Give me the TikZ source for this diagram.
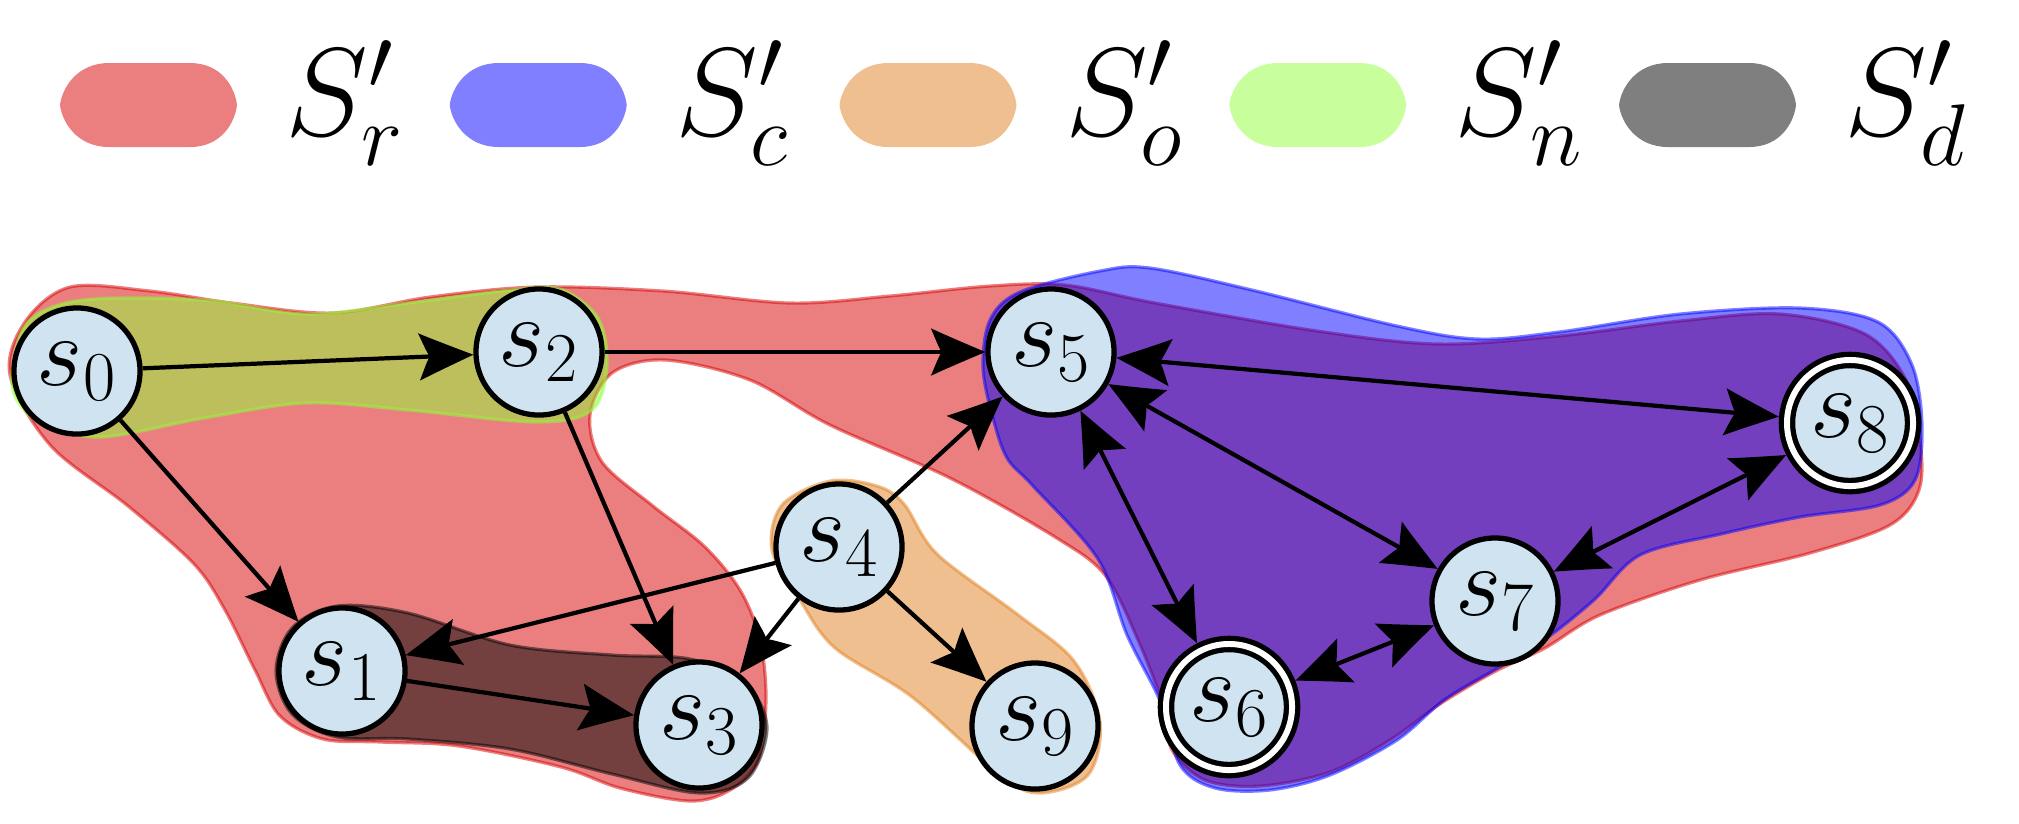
\RequirePackage{fix-cm}
\documentclass[tikz,border=0pt]{standalone}
\usetikzlibrary{arrows.meta}
\definecolor{cR}{RGB}{215,0,0}
\definecolor{cB}{RGB}{0,0,255}
\definecolor{cO}{RGB}{225,127,31}
\definecolor{cG}{RGB}{145,255,57}
\definecolor{cD}{RGB}{0,0,0}
\definecolor{nodefill}{RGB}{207,228,240}

% arrow head with nearly straight flanks and a curved, notched back
\pgfdeclarearrow{
  name = Dart,
  parameters = {\the\pgfarrowlength,\the\pgfarrowwidth},
  setup code = {
    \pgfarrowssettipend{0pt}
    \pgfarrowssetlineend{-.6\pgfarrowlength}
    \pgfarrowsupperhullpoint{0pt}{0pt}
    \pgfarrowsupperhullpoint{-\pgfarrowlength}{.5\pgfarrowwidth}
    \pgfarrowssavethe\pgfarrowlength
    \pgfarrowssavethe\pgfarrowwidth
  },
  drawing code = {
    \pgfpathmoveto{\pgfpointorigin}
    \pgfpathcurveto{\pgfpoint{-.35\pgfarrowlength}{.17\pgfarrowwidth}}{\pgfpoint{-.7\pgfarrowlength}{.34\pgfarrowwidth}}{\pgfpoint{-\pgfarrowlength}{.5\pgfarrowwidth}}
    \pgfpathcurveto{\pgfpoint{-.93\pgfarrowlength}{.32\pgfarrowwidth}}{\pgfpoint{-.86\pgfarrowlength}{.1\pgfarrowwidth}}{\pgfpoint{-.8\pgfarrowlength}{0pt}}
    \pgfpathcurveto{\pgfpoint{-.86\pgfarrowlength}{-.1\pgfarrowwidth}}{\pgfpoint{-.93\pgfarrowlength}{-.32\pgfarrowwidth}}{\pgfpoint{-\pgfarrowlength}{-.5\pgfarrowwidth}}
    \pgfpathcurveto{\pgfpoint{-.7\pgfarrowlength}{-.34\pgfarrowwidth}}{\pgfpoint{-.35\pgfarrowlength}{-.17\pgfarrowwidth}}{\pgfpointorigin}
    \pgfpathclose
    \pgfusepathqfill
  },
  defaults = {length = 15pt, width = 13pt}
}

\begin{document}
\begin{tikzpicture}[x=0.01cm,y=-0.01cm,
  region/.style={fill=#1, draw=#1, fill opacity=0.5, draw opacity=0.5, line width=0.9pt},
  swatch/.style={fill=#1, fill opacity=0.5},
  state/.style={circle, draw, line width=1.5pt, fill=nodefill, minimum size=1.26cm,
    inner sep=0pt, font=\fontsize{28.45}{34}\selectfont},
  finalstate/.style={double, double distance=1.7pt, outer sep=2.4pt},
  tip/.tip={Dart[length=15.5pt,width=13.5pt]},
  oneway/.style={line width=1.2pt, -tip},
  twoway/.style={line width=1.2pt, tip-tip},
  legendtext/.style={anchor=base west, inner sep=0pt, font=\fontsize{35.6}{42}\selectfont}]
\useasboundingbox (0,0) rectangle (2019,823);

% legend
\foreach \c/\lab [count=\i from 0] in {cR/r, cB/c, cO/o, cG/n, cD/d} {
  \begin{scope}[shift={(\i*389.75,0)}]
    \fill[swatch=\c] (109,63) -- (190,63) .. controls (222,63) and (235,88) .. (237,105)
      .. controls (235,122) and (222,147) .. (190,147) -- (109,147)
      .. controls (77,147) and (62,122) .. (60,105)
      .. controls (62,88) and (77,63) .. (109,63) -- cycle;
    \node[legendtext] (leg\lab) at (285,135) {$S'_\lab$};
  \end{scope}
}

% S'_r
\filldraw[region=cR] plot[smooth cycle, tension=0.55] coordinates {
  (10,375) (25,322) (70,287) (150,291) (232,303) (332,313) (430,297) (536,287)
  (663,291) (790,303) (890,296) (990,286) (1065,285) (1155,303) (1317,331)
  (1438,344) (1559,336) (1680,321) (1780,314) (1865,334) (1906,380) (1920,440)
  (1919,490) (1890,525) (1810,553) (1700,580) (1600,615) (1545,648) (1494,672)
  (1440,704) (1390,740) (1330,772) (1260,786) (1205,780) (1172,750) (1163,705)
  (1138,640) (1105,575) (1055,537) (950,478) (830,425) (750,380) (665,360)
  (612,373) (590,415) (602,462) (653,506) (704,546) (740,590) (760,640)
  (766,700) (758,760) (730,790) (690,801) (620,788) (561,767) (459,746)
  (380,742) (323,739) (280,716) (255,670) (225,610) (194,564) (128,506) (51,446)};
% S'_n
\filldraw[region=cG] plot[smooth cycle, tension=0.55] coordinates {
  (12,372) (28,322) (83,300) (204,300) (306,314) (408,303) (510,290) (560,289)
  (598,318) (607,365) (592,410) (536,422) (408,410) (306,403) (204,418)
  (102,437) (45,425) (18,402)};
% S'_d
\filldraw[region=cD] plot[smooth cycle, tension=0.55] coordinates {
  (276,671) (292,628) (337,606) (408,613) (510,645) (612,655) (690,659)
  (745,683) (767,727) (748,778) (699,793) (612,774) (510,749) (408,739)
  (337,737) (292,714)};
% S'_o
\filldraw[region=cO] plot[smooth cycle, tension=0.55] coordinates {
  (772,550) (782,505) (830,481) (877,486) (904,504) (937,554) (1017,614)
  (1074,661) (1100,722) (1088,775) (1040,793) (1000,775) (912,697)
  (835,648) (800,600)};
% S'_c
\filldraw[region=cB] plot[smooth cycle, tension=0.55] coordinates {
  (1020,292) (1100,271) (1150,268) (1252,290) (1397,326) (1478,339) (1559,332)
  (1680,314) (1800,308) (1878,322) (1912,365) (1922,425) (1915,480) (1880,505)
  (1800,517) (1721,534) (1640,555) (1594,600) (1544,640) (1494,670) (1444,700)
  (1397,740) (1330,775) (1270,790) (1215,788) (1180,765) (1160,701) (1127,635)
  (1098,559) (1033,486) (1007,458) (993,418) (983,368) (990,320)};

% states
\node[state] (s0) at (77,371) {$s_0$};
\node[state] (s1) at (342,671) {$s_1$};
\node[state] (s2) at (539,352) {$s_2$};
\node[state] (s3) at (699,725) {$s_3$};
\node[state] (s4) at (839,547) {$s_4$};
\node[state] (s5) at (1051,352) {$s_5$};
\node[state,finalstate] (s6) at (1229,707) {$s_6$};
\node[state] (s7) at (1495,601) {$s_7$};
\node[state,finalstate] (s8) at (1850,423) {$s_8$};
\node[state] (s9) at (1035,726) {$s_9$};

% transitions
\draw[oneway] (s0) -- (s2);
\draw[oneway] (s0) -- (s1);
\draw[oneway] (s2) -- (s5);
\draw[oneway] (s2) -- (s3);
\draw[oneway] (s1) -- (s3);
\draw[oneway] (s4) -- (s1);
\draw[oneway] (s4) -- (s3);
\draw[oneway] (s4) -- (s5);
\draw[oneway] (s4) -- (s9);
\draw[twoway] (s5) -- (s8);
\draw[twoway] (s5) -- (s7);
\draw[twoway] (s5) -- (s6);
\draw[twoway] (s7) -- (s8);
\draw[twoway] (s6) -- (s7);
\end{tikzpicture}
\end{document}
